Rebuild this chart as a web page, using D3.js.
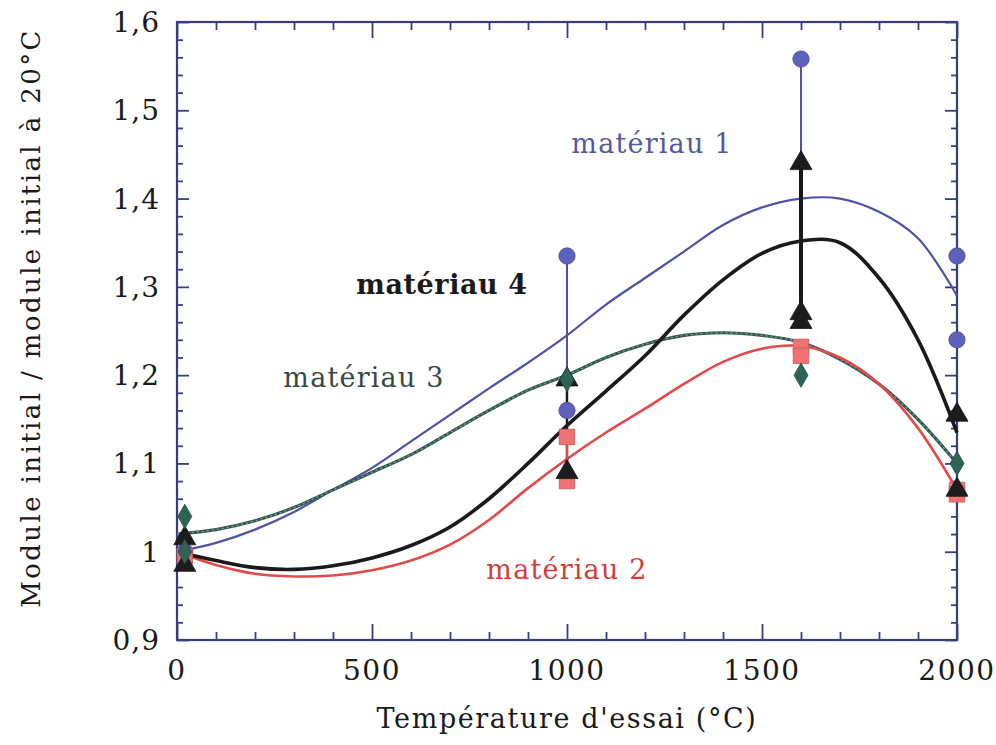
<!DOCTYPE html>
<html><head><meta charset="utf-8">
<script src="https://cdn.jsdelivr.net/npm/d3@7"></script>
<style>html,body{margin:0;padding:0;background:#fff;}svg{display:block;}</style>
</head><body>
<svg id="chart" width="996" height="745"></svg>
<script>
// ---- data ----
const temps = [0,100,200,300,400,500,600,700,800,900,1000,1100,1200,1300,1400,1500,1600,1700,1800,1900,2000];
const curve1 = [1.00,1.01,1.025,1.045,1.07,1.095,1.125,1.155,1.185,1.214,1.245,1.28,1.31,1.34,1.37,1.39,1.40,1.40,1.385,1.355,1.29];
const curve2 = [1.00,0.985,0.975,0.972,0.973,0.979,0.99,1.008,1.036,1.072,1.105,1.135,1.162,1.19,1.215,1.23,1.233,1.22,1.19,1.14,1.07];
const curve3 = [1.02,1.025,1.035,1.05,1.07,1.09,1.11,1.135,1.16,1.183,1.20,1.22,1.235,1.245,1.248,1.245,1.237,1.218,1.19,1.15,1.10];
const curve4 = [1.00,0.99,0.982,0.98,0.984,0.993,1.007,1.028,1.06,1.10,1.143,1.182,1.222,1.268,1.308,1.338,1.352,1.35,1.31,1.24,1.135];

const pointsT1 = [20,1000,1000,1600,2000,2000];
const pointsV1 = [1.0,1.335,1.16,1.558,1.335,1.24];
const pointsT2 = [20,1000,1000,1600,1600,2000,2000];
const pointsV2 = [0.995,1.13,1.08,1.232,1.222,1.07,1.065];
const pointsT3 = [20,20,1000,1600,2000];
const pointsV3 = [1.04,1.0,1.195,1.20,1.10];
const pointsT4 = [20,20,1000,1000,1600,1600,1600,2000,2000];
const pointsV4 = [1.015,0.985,1.195,1.09,1.44,1.27,1.26,1.155,1.07];

// stems: [temperature, low, high]
const stems1 = [[1000,1.16,1.335],[1600,1.44,1.558]];
const stems2 = [[1000,1.08,1.13]];
const stems4 = [[1000,1.09,1.195],[1600,1.26,1.44]];

const xTicks = [0,500,1000,1500,2000];
const yTicks = [0.9,1.0,1.1,1.2,1.3,1.4,1.5,1.6];
const yTickLabels = ["0,9","1","1,1","1,2","1,3","1,4","1,5","1,6"];
const labels = ["matériau 1","matériau 2","matériau 3","matériau 4"];

// ---- layout ----
const svg = d3.select("#chart");
const L = 177, R = 957, T = 22, B = 640;
const x = d3.scaleLinear().domain([0,2000]).range([L,R]);
const y = d3.scaleLinear().domain([0.9,1.6]).range([B,T]);
const frame = "#383d82";
const font = "'DejaVu Serif', 'Liberation Serif', serif";

const col1 = "#4f52a6", col2 = "#e24a4a", col3 = "#2f5a50", col4 = "#1a1a1a";
const fill1 = "#5d61bb", fill2 = "#f07272", fill3 = "#2e6458", fill4 = "#1c1c1c";

const xMinor = d3.range(0,2001,100);
const yMinor = d3.range(0,36).map(i => +(0.9 + i*0.02).toFixed(2));
const g = svg.append("g");

function tickAxis(axisGen, transform){
  const a = g.append("g").attr("transform", transform).call(axisGen);
  a.selectAll("text").remove();
  a.select(".domain").remove();
  a.selectAll("line").attr("stroke", frame).attr("stroke-width", 1.8);
}
tickAxis(d3.axisBottom(x).tickValues(xMinor.filter(v=>v%500)).tickSize(-8), `translate(0,${B})`);
tickAxis(d3.axisBottom(x).tickValues(xTicks).tickSize(-16), `translate(0,${B})`);
tickAxis(d3.axisTop(x).tickValues(xMinor.filter(v=>v%500)).tickSize(-8), `translate(0,${T})`);
tickAxis(d3.axisTop(x).tickValues(xTicks).tickSize(-16), `translate(0,${T})`);
const isMajor = v => Math.abs(v*10 - Math.round(v*10)) < 1e-6;
tickAxis(d3.axisLeft(y).tickValues(yMinor.filter(v=>!isMajor(v))).tickSize(-6), `translate(${L},0)`);
tickAxis(d3.axisLeft(y).tickValues(yTicks).tickSize(-12), `translate(${L},0)`);
tickAxis(d3.axisRight(y).tickValues(yMinor.filter(v=>!isMajor(v))).tickSize(-6), `translate(${R},0)`);
tickAxis(d3.axisRight(y).tickValues(yTicks).tickSize(-12), `translate(${R},0)`);

g.append("rect").attr("x",L).attr("y",T).attr("width",R-L).attr("height",B-T)
  .attr("fill","none").attr("stroke",frame).attr("stroke-width",2.2);

// tick labels
g.selectAll(".xl").data(xTicks).join("text")
  .attr("x", d=>x(d)).attr("y", B+40).attr("text-anchor","middle")
  .attr("font-family",font).attr("font-size",28).attr("letter-spacing",1.5).attr("fill","#1a1a1a").text(d=>d);
g.selectAll(".yl").data(yTicks).join("text")
  .attr("x", L-17).attr("y", d=>y(d)+10).attr("text-anchor","end")
  .attr("font-family",font).attr("font-size",28).attr("letter-spacing",1).attr("fill","#1a1a1a")
  .text((d,i)=>yTickLabels[i]);

// titles
g.append("text").attr("x", 567).attr("y", 728).attr("text-anchor","middle")
  .attr("font-family",font).attr("font-size",27).attr("letter-spacing",1.6).attr("fill","#1a1a1a")
  .text("Température d'essai (°C)");
g.append("text").attr("transform","translate(40,318) rotate(-90)").attr("text-anchor","middle")
  .attr("font-family",font).attr("font-size",26).attr("letter-spacing",2.4).attr("fill","#1a1a1a")
  .text("Module initial / module initial à 20°C");

// curves
const line = d3.line().x((d,i)=>x(temps[i])).y(d=>y(d)).curve(d3.curveCatmullRom.alpha(0.5));
g.append("path").datum(curve1).attr("d",line).attr("fill","none").attr("stroke",col1).attr("stroke-width",2.2);
g.append("path").datum(curve3).attr("d",line).attr("fill","none").attr("stroke",col3).attr("stroke-width",3.2);
g.append("path").datum(curve3).attr("d",line).attr("fill","none").attr("stroke","#8a9a94").attr("stroke-width",1.2).attr("stroke-dasharray","2,3");
g.append("path").datum(curve2).attr("d",line).attr("fill","none").attr("stroke",col2).attr("stroke-width",2.6);
g.append("path").datum(curve4).attr("d",line).attr("fill","none").attr("stroke",col4).attr("stroke-width",3.6);

// stems
function drawStems(data, color, w){
  g.selectAll(null).data(data).join("line")
    .attr("x1",d=>x(d[0])).attr("x2",d=>x(d[0]))
    .attr("y1",d=>y(d[1])).attr("y2",d=>y(d[2]))
    .attr("stroke",color).attr("stroke-width",w);
}
drawStems(stems1, col1, 2);
drawStems(stems4, col4, 2.5);
drawStems(stems2, col2, 2);
drawStems([[1600,1.26,1.44]], col4, 4);

// markers
function drawMarkers(ts, vs, type, size, color){
  const sym = d3.symbol().type(type).size(size);
  g.selectAll(null).data(ts.map((t,i)=>[t,vs[i]])).join("path")
    .attr("d", sym).attr("transform", d=>`translate(${x(d[0])},${y(d[1])})`)
    .attr("fill", color).attr("stroke", d3.color(color).darker(0.6)).attr("stroke-width",0.8);
}
drawMarkers(pointsT1, pointsV1, d3.symbolCircle, 210, fill1);
drawMarkers(pointsT2, pointsV2, d3.symbolSquare, 240, fill2);
drawMarkers(pointsT4, pointsV4, d3.symbolTriangle, 210, fill4);
drawMarkers(pointsT3, pointsV3, d3.symbolDiamond, 170, fill3);

// labels
const labelPos = [[652,153,"#55599c","normal"],[567,579,"#d43c3c","normal"],[364,387,"#3a4843","normal"],[442,294,"#1a1a1a","bold"]];
g.selectAll(".lab").data(labels).join("text")
  .attr("x",(d,i)=>labelPos[i][0]).attr("y",(d,i)=>labelPos[i][1])
  .attr("text-anchor","middle").attr("font-family",font).attr("font-size",27)
  .attr("letter-spacing",(d,i)=>i===3?0.6:1.2)
  .attr("fill",(d,i)=>labelPos[i][2]).attr("font-weight",(d,i)=>labelPos[i][3])
  .text(d=>d);
</script>
</body></html>
